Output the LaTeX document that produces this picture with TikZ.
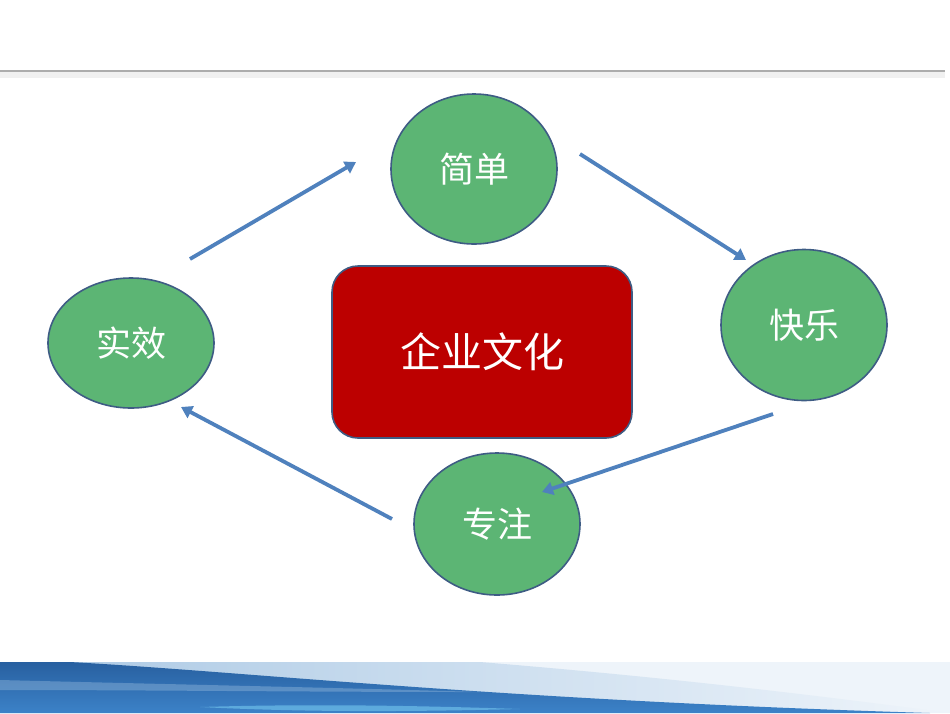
\documentclass[tikz,border=0pt]{standalone}
\usepackage{fontspec}
\newfontfamily\cjk{Noto Sans CJK SC}
\usetikzlibrary{arrows.meta,shapes.geometric}
\definecolor{cgreen}{RGB}{92,181,116}
\definecolor{cborder}{RGB}{62,92,132}
\definecolor{cred}{RGB}{188,0,0}
\definecolor{carrow}{RGB}{79,129,189}
\definecolor{bandA}{RGB}{40,96,160}
\definecolor{bandB}{RGB}{60,130,200}
\definecolor{bandL}{RGB}{170,200,228}
\definecolor{bandC}{RGB}{238,244,250}
\tikzset{
  circ/.style={ellipse, draw=cborder, line width=1.6pt, fill=cgreen, text=white, font=\cjk\fontsize{35}{40}\selectfont, inner sep=0pt},
  core/.style={rectangle, rounded corners=26pt, draw=cborder, line width=1.6pt, fill=cred, text=white, font=\cjk\fontsize{41}{46}\selectfont, minimum width=300pt, minimum height=172pt},
  flow/.style={draw=carrow, line width=3.8pt, -{Triangle[length=11pt,width=13pt]}}
}
\begin{document}
\begin{tikzpicture}[x=1pt,y=-1pt]
\useasboundingbox (0,0) rectangle (950,713);
\fill[white] (0,0) rectangle (950,713);
% top rule
\fill[gray!12] (0,72) rectangle (945,78);
\draw[gray!65, line width=2pt] (0,71) -- (945,71);
% bottom band
\fill[bandC] (0,662) rectangle (950,713);
\shade[left color=bandL, right color=bandC] (0,662) -- (480,662) .. controls (700,680) and (850,700) .. (950,713) -- (0,713) -- cycle;
\shade[top color=bandA, bottom color=bandB] (0,662) -- (70,662) .. controls (250,672) and (500,700) .. (930,713) -- (0,713) -- cycle;
\fill[bandL, opacity=0.35] (0,680) .. controls (200,685) and (350,688) .. (480,692) .. controls (300,692) and (150,690) .. (0,690) -- cycle;
\fill[cyan!50, opacity=0.5] (200,707) .. controls (300,704) and (400,705) .. (520,709) .. controls (400,712) and (300,712) .. (200,707) -- cycle;
% nodes
\node[core] (center) at (482,352) {企业文化};
\node[circ, minimum width=166pt, minimum height=150pt] (jd) at (474,169) {简单};
\node[circ, minimum width=166pt, minimum height=130pt] (sx) at (131,343) {实效};
\node[circ, minimum width=166pt, minimum height=151pt] (kl) at (804,325) {快乐};
\node[circ, minimum width=166pt, minimum height=142pt] (zz) at (497,524) {专注};
% connector ends
\coordinate (a1) at (190,259); \coordinate (a2) at (356,162);
\coordinate (b1) at (580,154); \coordinate (b2) at (746,260);
\coordinate (c1) at (773,414); \coordinate (c2) at (542,492);
\coordinate (d1) at (392,519); \coordinate (d2) at (181,407);
\draw[flow] (a1) -- (a2);
\draw[flow] (b1) -- (b2);
\draw[flow] (c1) -- (c2);
\draw[flow] (d1) -- (d2);
\end{tikzpicture}
\end{document}
